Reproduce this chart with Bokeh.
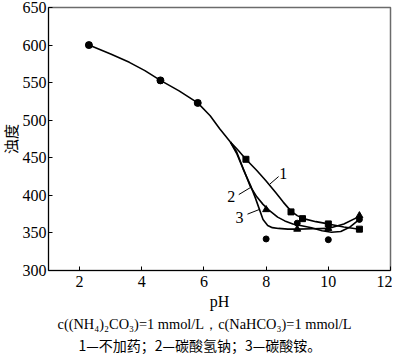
from bokeh.plotting import figure
from bokeh.models import Title, Range1d
from bokeh.embed import file_html
from bokeh.resources import INLINE
from bokeh.core.properties import value

# ---- data ----
# shared part of the three fitted curves
common_x = [2.3, 3.0, 3.6, 4.1, 4.6, 5.2, 5.8, 6.2, 6.5, 6.85]
common_y = [600, 588, 577, 566, 553, 539, 523, 506, 489, 471]

curve1_x = [6.85, 7.1, 7.35, 7.7, 8.0, 8.3, 8.55, 8.8, 9.0, 9.2, 9.6, 10.0, 10.5, 11.0]
curve1_y = [471, 460, 448, 433, 419, 404, 391, 379, 373, 369, 365, 362, 358, 355]

curve2_x = [6.85, 7.05, 7.25, 7.49, 7.7, 7.9, 8.1, 8.37, 8.6, 8.86, 9.1, 9.46, 9.8, 10.1, 10.4, 10.7, 11.0]
curve2_y = [471, 458, 437, 412, 398, 388, 380, 371, 366, 362, 360, 357, 353, 351, 352, 358, 368]

curve3_x = [6.85, 7.05, 7.25, 7.5, 7.65, 7.77, 7.9, 8.05, 8.2, 8.4, 8.7, 9.0, 9.5, 10.0, 10.5, 11.0]
curve3_y = [471, 456, 436, 413, 397, 383, 368, 360, 357, 356, 355, 355, 355.5, 356, 362, 372]

common_pts_x = [2.3, 4.6, 5.8]
common_pts_y = [600, 553, 523]

square_x = [7.35, 8.8, 9.17, 10.0, 11.0]
square_y = [448, 378, 369, 362, 355]

circle_x = [8.0, 9.0, 10.0, 11.0]
circle_y = [342, 363, 341, 368]

triangle_x = [8.0, 9.0, 10.0, 11.0]
triangle_y = [381, 355, 356, 373]

curve_labels = ["1", "2", "3"]
label_x = [8.55, 6.88, 7.14]
label_y = [429, 399, 370]
leader_x0 = [8.40, 7.12, 7.40]
leader_y0 = [425, 401, 375]
leader_x1 = [8.12, 7.52, 7.77]
leader_y1 = [415, 411, 381]

x_ticks = [2, 4, 6, 8, 10, 12]
y_ticks = [300, 350, 400, 450, 500, 550, 600, 650]

caption1 = "c((NH₄)₂CO₃)=1 mmol/L，c(NaHCO₃)=1 mmol/L"
caption2 = "1—不加药；2—碳酸氢钠；3—碳酸铵。"

SERIF = "Liberation Serif"
CJK = "Noto Sans CJK SC"

p = figure(width=392, height=355, output_backend="svg", toolbar_location=None,
           x_range=Range1d(1, 12), y_range=Range1d(300, 650),
           min_border_left=48, min_border_right=2, min_border_top=7,
           min_border_bottom=81)

p.xgrid.visible = False
p.ygrid.visible = False
p.outline_line_color = "#6b6b6b"
p.outline_line_width = 1.5
p.background_fill_color = "white"
p.border_fill_color = "white"

for ax in (p.xaxis[0], p.yaxis[0]):
    ax.major_tick_in = 4
    ax.major_tick_out = 0
    ax.minor_tick_line_color = None
    ax.axis_line_color = "black"
    ax.major_tick_line_color = "black"
    ax.major_label_text_font = SERIF
    ax.major_label_text_font_size = "16px"
    ax.major_label_text_color = "black"
    ax.axis_label_text_font_style = "normal"
    ax.axis_label_text_color = "black"

p.xaxis.ticker = x_ticks
p.yaxis.ticker = y_ticks
p.xaxis.major_label_standoff = 5
p.yaxis.major_label_standoff = 2
p.xaxis.axis_label = "pH"
p.xaxis.axis_label_text_font = SERIF
p.xaxis.axis_label_text_font_size = "16px"
p.xaxis.axis_label_standoff = 3
p.yaxis.axis_label = "浊度"
p.yaxis.axis_label_text_font = SERIF + ", " + CJK
p.yaxis.axis_label_text_font_size = "15px"
p.yaxis.axis_label_standoff = 0

# curves
p.line(common_x, common_y, line_color="black", line_width=1.6)
p.line(curve1_x, curve1_y, line_color="black", line_width=1.6)
p.line(curve2_x, curve2_y, line_color="black", line_width=1.6)
p.line(curve3_x, curve3_y, line_color="black", line_width=1.6)

# markers
p.scatter(common_pts_x, common_pts_y, marker="circle", size=7, color="black")
p.scatter(common_pts_x, common_pts_y, marker="square", size=5, color="black")
p.scatter(square_x, square_y, marker="square", size=6, color="black")
p.scatter(circle_x, circle_y, marker="circle", size=6, color="black")
p.scatter(triangle_x, triangle_y, marker="triangle", size=7, color="black")

# curve labels with leader lines
p.segment(leader_x0, leader_y0, leader_x1, leader_y1, line_color="black", line_width=1)
p.text(label_x, label_y, text=curve_labels, text_font=value(SERIF),
       text_font_size="16px", text_align="center", text_baseline="middle",
       text_color="black")

# captions below the x axis
t1 = Title(text=caption1, align="left", offset=9, text_font=SERIF,
           text_font_size="14.4px", text_font_style="normal", text_color="black",
           standoff=2)
t2 = Title(text=caption2, align="left", offset=30, text_font=CJK,
           text_font_size="14px", text_font_style="normal", text_color="black",
           standoff=1)
p.add_layout(t1, "below")
p.add_layout(t2, "below")

open("out.html", "w").write(file_html(p, INLINE))
